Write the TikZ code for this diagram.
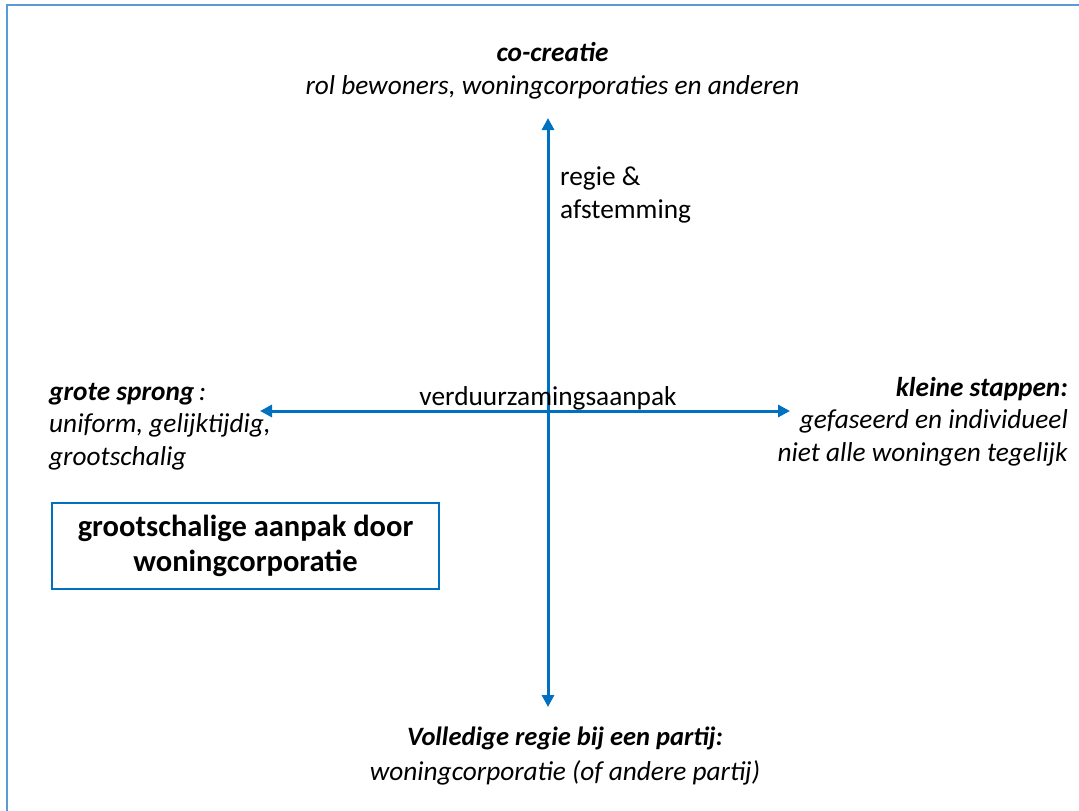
\documentclass[tikz,border=0pt]{standalone}
\usepackage{fontspec}
\setmainfont{Carlito}
\usetikzlibrary{arrows.meta}
\definecolor{arrowblue}{HTML}{0070C0}
\definecolor{frameblue}{HTML}{5B9BD5}
\begin{document}
\begin{tikzpicture}[x=1pt,y=-1pt,
  axis/.style={draw=arrowblue,line width=3pt,{Triangle[length=12pt,width=12pt]}-{Triangle[length=12pt,width=12pt]}},
  txt/.style={inner sep=0pt,font=\fontsize{27.3}{32.5}\selectfont},
  boxtxt/.style={draw=arrowblue,line width=1.6pt,inner sep=0pt,minimum width=387pt,minimum height=86pt,align=center,font=\fontsize{30.5}{35}\selectfont\bfseries}]
\useasboundingbox (0,0) rectangle (1079,811);
\draw[frameblue,line width=2pt] (1085,5) -- (7,5) -- (7,820);
% axes
\coordinate (top) at (548,118);
\coordinate (bot) at (548,707);
\coordinate (lft) at (260,411);
\coordinate (rgt) at (790,411);
\draw[axis] (bot) -- (top);
\draw[axis] (lft) -- (rgt);
% labels
\node[txt,align=center,anchor=base] (cocreatie) at (552.5,94) {\textbf{\textit{co-creatie}}\\\textit{rol bewoners, woningcorporaties en anderen}};
\node[txt,align=left,anchor=base west] (regie) at (560,218) {regie \&\\afstemming};
\node[txt,anchor=base] (verd) at (548,405) {verduurzamingsaanpak};
\node[txt,align=left,anchor=base west] (grote) at (49,465) {\textbf{\textit{grote sprong}}\textit{\,:}\\\textit{uniform, gelijktijdig,}\\\textit{grootschalig}};
\node[txt,align=right,anchor=base east] (kleine) at (1068,461) {\textbf{\textit{kleine stappen:}}\\\textit{gefaseerd en individueel}\\\textit{niet alle woningen tegelijk}};
\node[boxtxt] (box) at (245.5,546) {grootschalige aanpak door\\woningcorporatie};
\node[txt,align=center,anchor=base] (volledige) at (565,780) {{\fontsize{26.5}{32.5}\selectfont\textbf{\textit{Volledige regie bij een partij:}}}\\[2.5pt]\textit{woningcorporatie (of andere partij)}};
\end{tikzpicture}
\end{document}
